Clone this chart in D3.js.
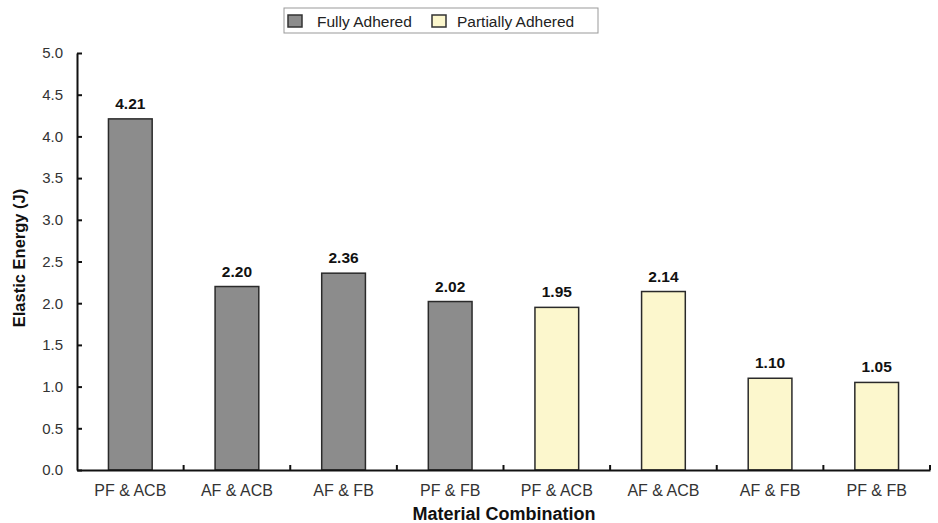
<!DOCTYPE html>
<html><head><meta charset="utf-8">
<script src="https://cdn.jsdelivr.net/npm/d3@7"></script>
<style>body{margin:0;background:#fff}svg{display:block}text{font-family:Arial,"Liberation Sans",sans-serif}</style>
</head><body>
<script>
const categories = ["PF & ACB","AF & ACB","AF & FB","PF & FB","PF & ACB ","AF & ACB ","AF & FB ","PF & FB "];
const categoryLabels = ["PF & ACB","AF & ACB","AF & FB","PF & FB","PF & ACB","AF & ACB","AF & FB","PF & FB"];
const groups = ["Fully Adhered","Fully Adhered","Fully Adhered","Fully Adhered","Partially Adhered","Partially Adhered","Partially Adhered","Partially Adhered"];
const values = [4.21, 2.20, 2.36, 2.02, 1.95, 2.14, 1.10, 1.05];
const seriesNames = ["Fully Adhered","Partially Adhered"];
const yTicks = [0,0.5,1.0,1.5,2.0,2.5,3.0,3.5,4.0,4.5,5.0];

const W=938,H=523;
const svg=d3.select("body").append("svg").attr("width",W).attr("height",H);
const x=d3.scaleBand().domain(categories).range([77,930]).paddingInner(0.59).paddingOuter(0.295);
const y=d3.scaleLinear().domain([0,5]).range([470,53]);
const color=d3.scaleOrdinal().domain(seriesNames).range(["#8c8c8c","#fcf7cd"]);

// bars
svg.selectAll("rect.bar").data(values).join("rect").attr("class","bar")
  .attr("x",(d,i)=>x(categories[i])).attr("width",x.bandwidth())
  .attr("y",d=>y(d)).attr("height",d=>y(0)-y(d))
  .attr("fill",(d,i)=>color(groups[i])).attr("stroke","#2a2a2a").attr("stroke-width",1.5);

// value labels
svg.selectAll("text.val").data(values).join("text").attr("class","val")
  .attr("x",(d,i)=>x(categories[i])+x.bandwidth()/2).attr("y",d=>y(d)-10)
  .attr("text-anchor","middle").attr("font-size",15.5).attr("font-weight","bold").attr("fill","#111")
  .text(d=>d.toFixed(2));

// y axis
const ya=svg.append("g").attr("transform","translate(77,0)")
  .call(d3.axisLeft(y).tickValues(yTicks).tickFormat(d3.format(".1f")).tickSizeInner(-5).tickSizeOuter(0).tickPadding(14));
ya.select(".domain").attr("stroke","#111").attr("stroke-width",2);
ya.selectAll(".tick line").attr("stroke","#111").attr("stroke-width",2);
ya.selectAll(".tick text").attr("font-size",15).attr("fill","#333").attr("font-family","Arial, 'Liberation Sans', sans-serif");

// x axis
const xa=svg.append("g").attr("transform","translate(0,470)")
  .call(d3.axisBottom(x).tickFormat((d,i)=>categoryLabels[i]).tickSize(0).tickPadding(15));
xa.select(".domain").attr("stroke","#111").attr("stroke-width",2);
xa.selectAll(".tick text").attr("font-size",16).attr("fill","#333").attr("font-family","Arial, 'Liberation Sans', sans-serif");
// boundary ticks
const bounds=d3.range(1,categories.length+1).map(i=>77+i*(930-77)/categories.length);
svg.append("g").selectAll("line").data(bounds).join("line")
  .attr("x1",d=>d).attr("x2",d=>d).attr("y1",470).attr("y2",465).attr("stroke","#111").attr("stroke-width",2);

// axis titles
svg.append("text").attr("transform","translate(25,258) rotate(-90)").attr("text-anchor","middle")
  .attr("font-size",16.5).attr("font-weight","bold").attr("fill","#111").text("Elastic Energy (J)");
svg.append("text").attr("x",504).attr("y",520).attr("text-anchor","middle")
  .attr("font-size",18).attr("font-weight","bold").attr("fill","#111").text("Material Combination");

// legend
const lg=svg.append("g");
lg.append("rect").attr("x",284).attr("y",8).attr("width",314).attr("height",25).attr("fill","#fff").attr("stroke","#999").attr("stroke-width",1);
const litems=[{n:seriesNames[0],x:288,tx:317},{n:seriesNames[1],x:432,tx:457}];
litems.forEach(it=>{
  lg.append("rect").attr("x",it.x).attr("y",15).attr("width",14).attr("height",12).attr("fill",color(it.n)).attr("stroke","#333").attr("stroke-width",1.5);
  lg.append("text").attr("x",it.tx).attr("y",27).attr("font-size",15.5).attr("fill","#222").text(it.n);
});
</script>
</body></html>
